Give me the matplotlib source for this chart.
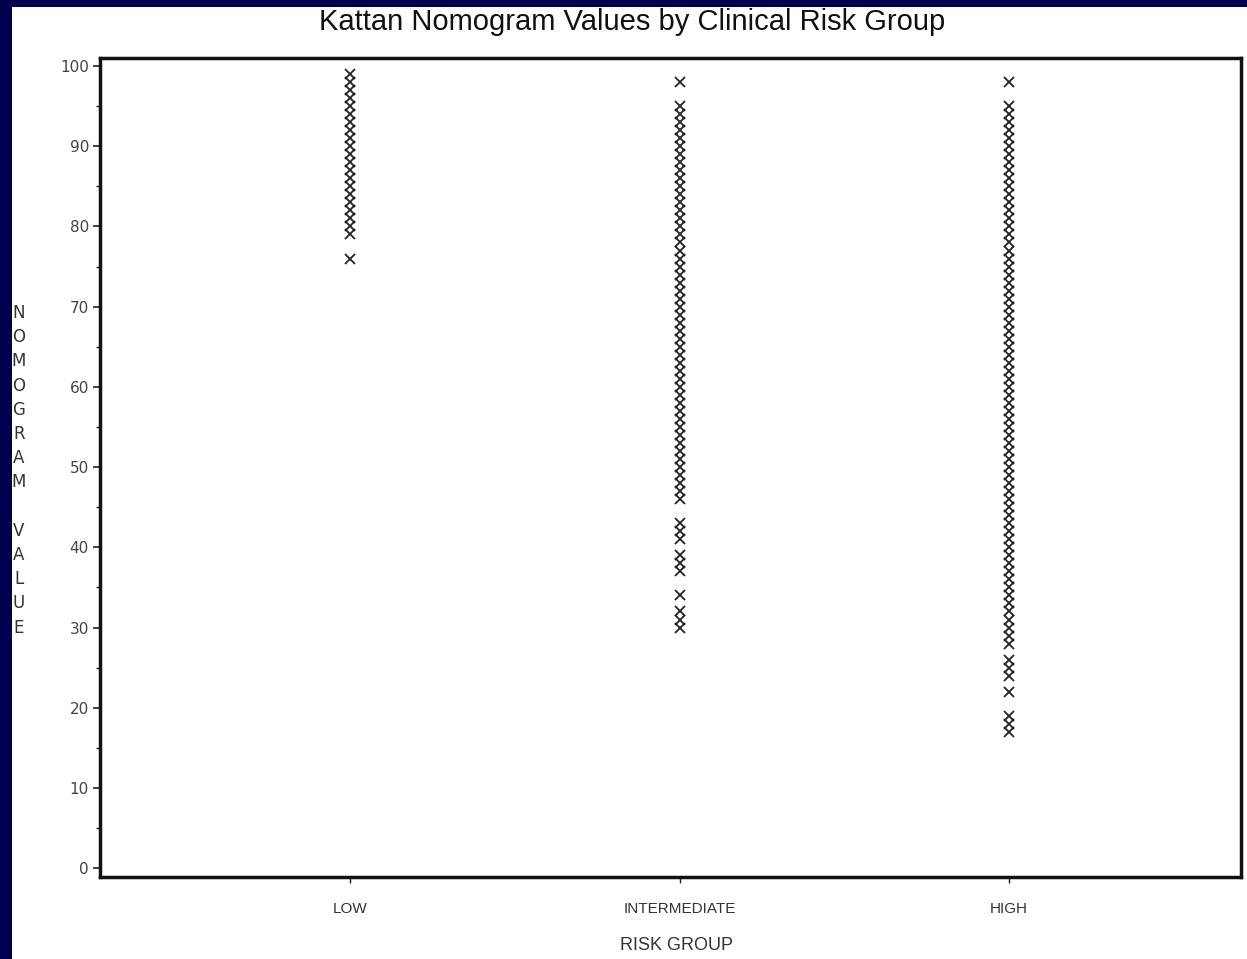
import numpy as np
import matplotlib
matplotlib.use("Agg")
import matplotlib.pyplot as plt
from matplotlib.patches import Rectangle
from matplotlib.ticker import MultipleLocator

# risk groups and nomogram values read per group
groups = ["LOW", "INTERMEDIATE", "HIGH"]
low_values = [76, 79, 80, 81, 82, 83, 84, 85, 86, 87, 88, 89, 90, 91, 92, 93,
              94, 95, 96, 97, 98, 99]
intermediate_values = [30, 31, 32, 34, 37, 38, 39, 41, 42, 43,
                       46, 47, 48, 49, 50, 51, 52, 53, 54, 55, 56, 57, 58, 59,
                       60, 61, 62, 63, 64, 65, 66, 67, 68, 69, 70, 71, 72, 73,
                       74, 75, 76, 77, 78, 79, 80, 81, 82, 83, 84, 85, 86, 87,
                       88, 89, 90, 91, 92, 93, 94, 95, 98]
high_values = [17, 18, 19, 22, 24, 25, 26,
               28, 29, 30, 31, 32, 33, 34, 35, 36, 37, 38, 39, 40, 41, 42,
               43, 44, 45, 46, 47, 48, 49, 50, 51, 52, 53, 54, 55, 56, 57,
               58, 59, 60, 61, 62, 63, 64, 65, 66, 67, 68, 69, 70, 71, 72,
               73, 74, 75, 76, 77, 78, 79, 80, 81, 82, 83, 84, 85, 86, 87,
               88, 89, 90, 91, 92, 93, 94, 95, 98]
y_ticks = [0, 10, 20, 30, 40, 50, 60, 70, 80, 90, 100]
title = "Kattan Nomogram Values by Clinical Risk Group"
y_label = "NOMOGRAM VALUE"
x_label = "RISK GROUP"

navy = "#00004f"
ink = "#222222"

W, H = 1247, 959
fig = plt.figure(figsize=(W / 100, H / 100), dpi=100, facecolor="white")

# dark slide frame on the left and top edges
fig.patches.append(Rectangle((0, 0), 12 / W, 1, transform=fig.transFigure,
                             facecolor=navy, edgecolor="none", zorder=0))
fig.patches.append(Rectangle((0, 1 - 7 / H), 1, 7 / H, transform=fig.transFigure,
                             facecolor=navy, edgecolor="none", zorder=0))

ax = fig.add_axes([100 / W, (H - 877) / H, (1241 - 100) / W, (877 - 58) / H])

for i, vals in enumerate([low_values, intermediate_values, high_values]):
    ax.plot([i + 1] * len(vals), vals, linestyle="none", marker="x",
            markersize=6.5, markeredgewidth=1.3, color=ink)

ax.set_xlim(0.24, 3.705)
ax.set_ylim(-1.1, 101)
ax.set_xticks([1, 2, 3])
ax.set_xticklabels(groups, family="Liberation Sans", fontsize=11, color="#333333")
ax.set_yticks(y_ticks)
ax.set_yticklabels([str(v) for v in y_ticks], family="DejaVu Sans",
                   fontsize=11, color="#444444")
ax.yaxis.set_minor_locator(MultipleLocator(5))

ax.tick_params(axis="y", which="major", direction="out", length=5, width=1.2,
               pad=3, color=ink)
ax.tick_params(axis="y", which="minor", direction="out", length=3, width=1.0,
               color=ink)
ax.tick_params(axis="x", which="major", direction="out", length=4, width=1.0,
               pad=14, color=ink)

for side in ["left", "bottom", "top", "right"]:
    ax.spines[side].set_linewidth(2.5)
    ax.spines[side].set_color("#111111")

fig.text(676 / W, 1 - 946 / H, x_label, ha="center", va="center",
         family="Liberation Sans", fontsize=13, color="#333333")

fig.text(632 / W, 1 - 22 / H, title, ha="center", va="center",
         family="Liberation Sans", fontsize=21, color="#111111")

# vertical stacked axis title
y_pos = 313
for ch in y_label:
    if ch != " ":
        fig.text(19 / W, 1 - y_pos / H, ch, ha="center", va="center",
                 family="DejaVu Sans", fontsize=12, color="#333333")
    y_pos += 24.2

fig.savefig("out.png", dpi=100, facecolor=fig.get_facecolor())
